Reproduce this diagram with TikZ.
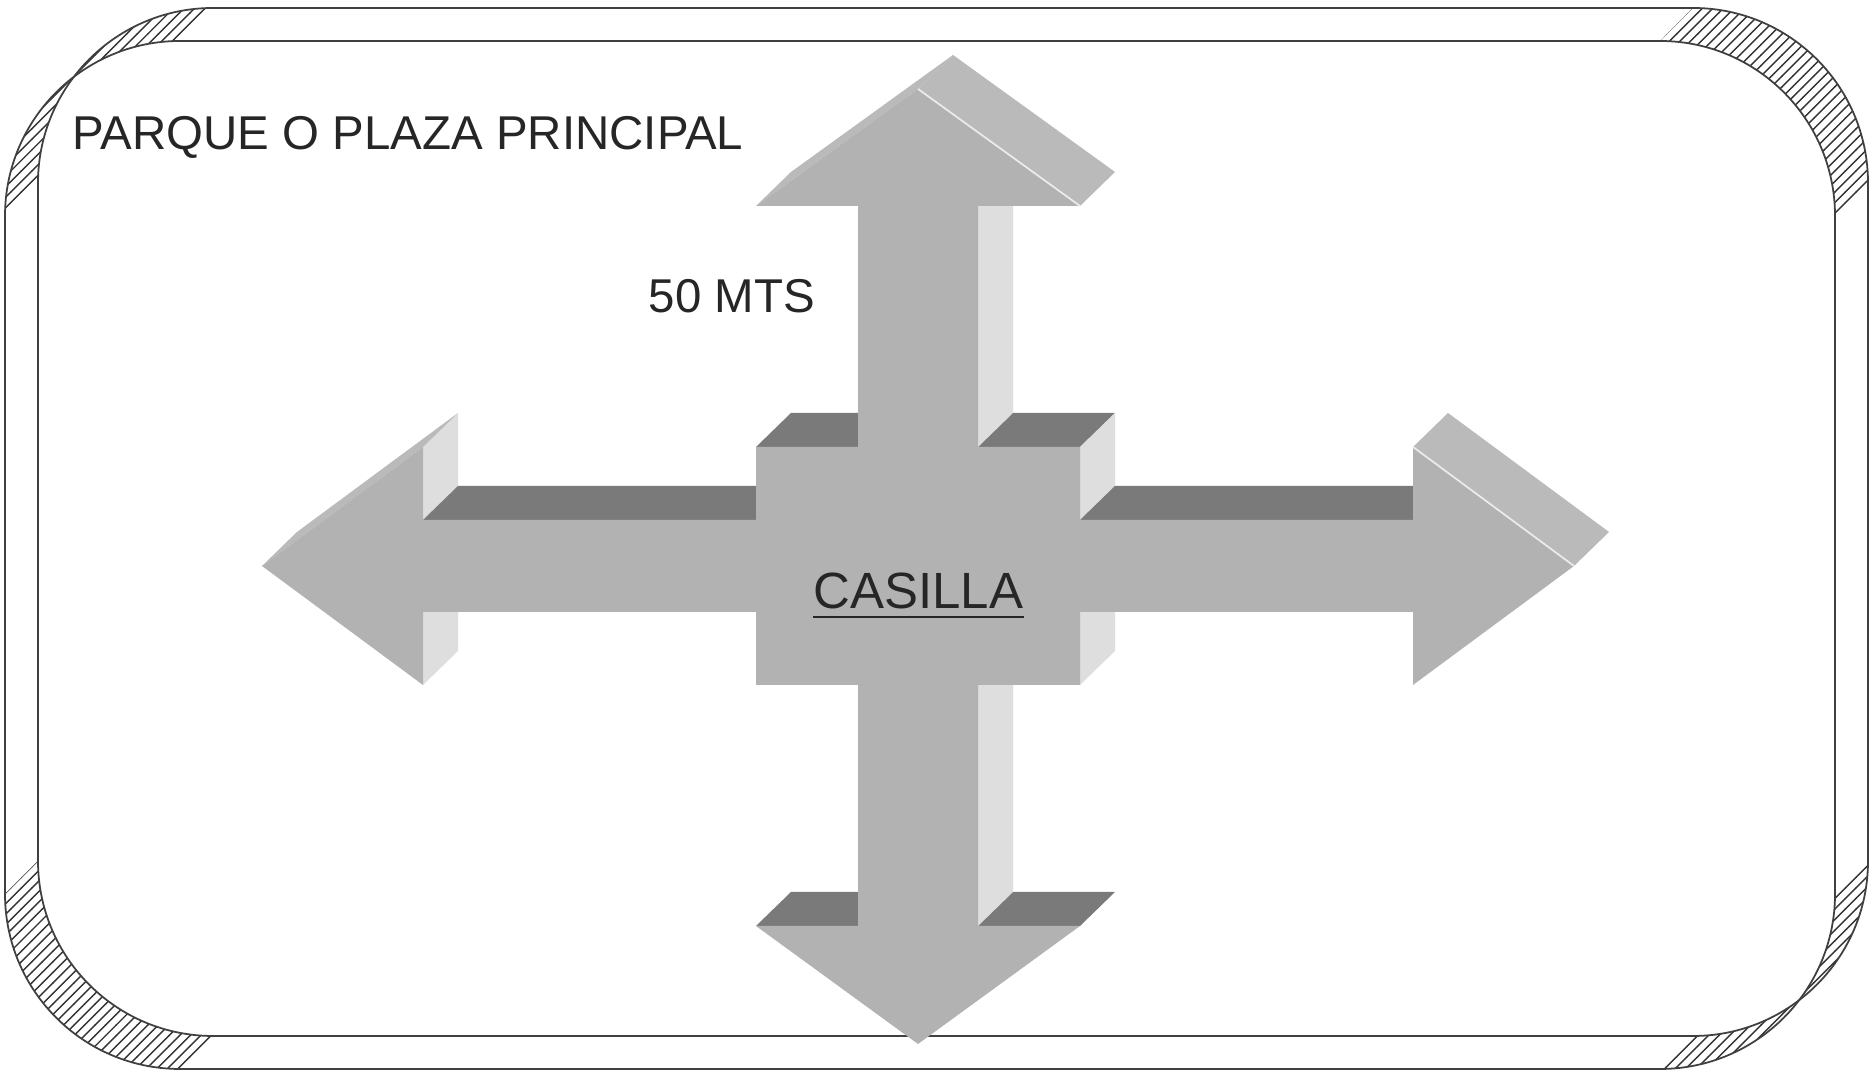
\documentclass[tikz,border=0pt]{standalone}
\usepackage{fontspec}
\setmainfont{Liberation Sans}
\usetikzlibrary{patterns}

\begin{document}
\begin{tikzpicture}[
        marco/.style={draw=black!75, line width=0.5pt, rounded corners=1.75cm},
        rayado/.style={pattern=north east lines, pattern color=black!80, even odd rule},
        frente/.style={fill=black!30},
        arriba/.style={fill=black!52},
        lado/.style={fill=black!13},
        punta/.style={fill=black!27},
        texto/.style={inner sep=0pt, anchor=base west, text=black!85, font=\fontsize{13.5}{16}\selectfont}
    ]
        \useasboundingbox (0, 0) rectangle (18.74, 10.78);
        \fill[white] (0, 0) rectangle (18.74, 10.78);

        \path[rayado] (2.13, 10.7) arc[start angle=90, end angle=180, radius=1.75] -- (0.05, 8.62) arc[start angle=180, end angle=90, radius=1.75] -- cycle;
        \path[rayado] (18.68, 8.95) arc[start angle=0, end angle=90, radius=1.75] -- (16.6, 10.37) arc[start angle=90, end angle=0, radius=1.75] -- cycle;
        \path[rayado] (0.38, 2.17) arc[start angle=180, end angle=270, radius=1.75] -- (1.8, 0.09) arc[start angle=270, end angle=180, radius=1.75] -- cycle;
        \path[rayado] (16.93, 0.42) arc[start angle=270, end angle=360, radius=1.75] -- (18.35, 1.84) arc[start angle=360, end angle=270, radius=1.75] -- cycle;
        \draw[marco] (0.38, 0.42) rectangle (18.68, 10.7);
        \draw[marco] (0.05, 0.09) rectangle (18.35, 10.37);

        \begin{scope}[shift={(9.18, 5.12)}]
        \fill[arriba] (-1.62, -3.6) -- (1.62, -3.6) -- (1.97, -3.26) -- (-1.27, -3.26) -- cycle;
        \fill[lado] (-4.95, 1.19) -- (-4.95, -1.19) -- (-4.6, -0.85) -- (-4.6, 1.53) -- cycle;
        \fill[punta] (-6.56, 0) -- (-4.95, 1.19) -- (-4.6, 1.53) -- (-6.21, 0.34) -- cycle;
        \fill[arriba] (-1.62, 1.19) -- (1.62, 1.19) -- (1.97, 1.53) -- (-1.27, 1.53) -- cycle;
        \fill[lado] (1.62, 1.19) -- (1.62, -1.19) -- (1.97, -0.85) -- (1.97, 1.53) -- cycle;
        \fill[lado] (0.6, 1.19) -- (0.6, 3.6) -- (0.95, 3.94) -- (0.95, 1.53) -- cycle;
        \fill[lado] (0.6, -3.6) -- (0.6, -1.19) -- (0.95, -0.85) -- (0.95, -3.26) -- cycle;
        \fill[arriba] (-4.95, 0.46) -- (-1.62, 0.46) -- (-1.27, 0.8) -- (-4.6, 0.8) -- cycle;
        \fill[arriba] (1.62, 0.46) -- (4.95, 0.46) -- (5.3, 0.8) -- (1.97, 0.8) -- cycle;
        \fill[punta] (-1.62, 3.6) -- (0, 4.77) -- (0.35, 5.11) -- (-1.27, 3.94) -- cycle;
        \fill[punta] (0, 4.77) -- (1.62, 3.6) -- (1.97, 3.94) -- (0.35, 5.11) -- cycle;
        \fill[punta] (4.95, 1.19) -- (6.56, 0) -- (6.91, 0.34) -- (5.3, 1.53) -- cycle;

        \fill[frente] (0, 4.77) -- (1.62, 3.6) -- (0.6, 3.6) -- (0.6, 1.19) -- (1.62, 1.19) -- (1.62, 0.46) -- (4.95, 0.46) -- (4.95, 1.19) -- (6.56, 0) -- (4.95, -1.19) -- (4.95, -0.46) -- (1.62, -0.46) -- (1.62, -1.19) -- (0.6, -1.19) -- (0.6, -3.6) -- (1.62, -3.6) -- (0, -4.78) -- (-1.62, -3.6) -- (-0.6, -3.6) -- (-0.6, -1.19) -- (-1.62, -1.19) -- (-1.62, -0.46) -- (-4.95, -0.46) -- (-4.95, -1.19) -- (-6.56, 0) -- (-4.95, 1.19) -- (-4.95, 0.46) -- (-1.62, 0.46) -- (-1.62, 1.19) -- (-0.6, 1.19) -- (-0.6, 3.6) -- (-1.62, 3.6) -- cycle;
        \draw[black!8, line width=0.5pt] (0, 4.77) -- (1.62, 3.6);
        \draw[black!8, line width=0.5pt] (4.95, 1.19) -- (6.56, 0);
        \end{scope}

        \node[texto] (parque) at (0.72, 9.28) {PARQUE O PLAZA PRINCIPAL};
        \node[texto] (metros) at (6.48, 7.65) {50 MTS};
        \node[texto, font=\fontsize{14.5}{17}\selectfont] (casilla) at (8.13, 4.69) {CASILLA};
        \draw[black!85, line width=0.6pt] ([yshift=-2.3pt]casilla.base west) -- ([yshift=-2.3pt]casilla.base east);


    \end{tikzpicture}
\end{document}
